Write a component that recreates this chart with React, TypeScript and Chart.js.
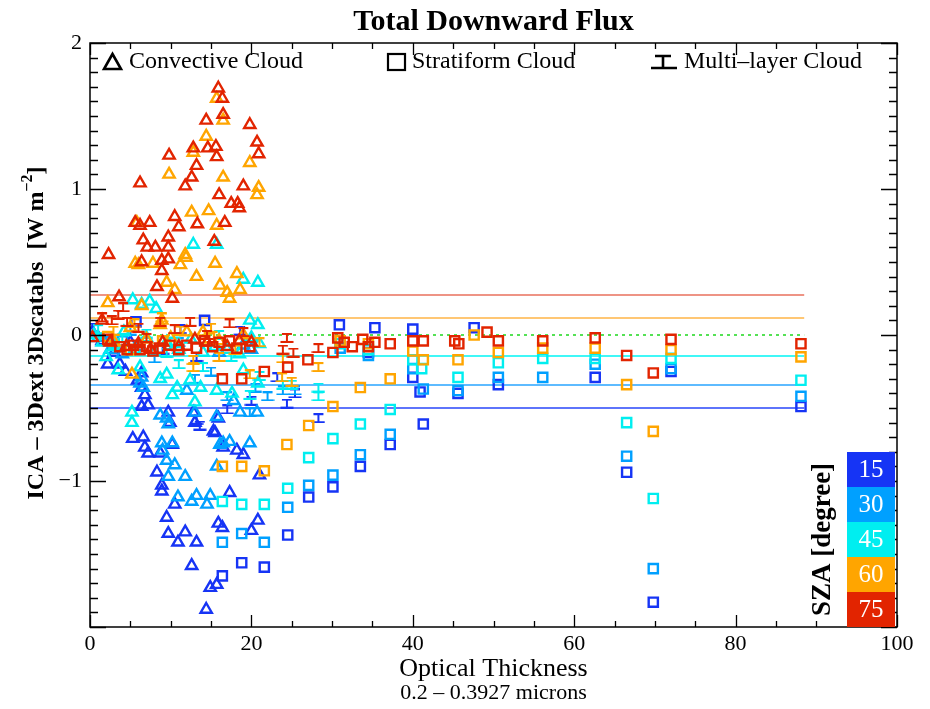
import { useEffect, useRef } from "react";
import { Chart, registerables } from "chart.js";

Chart.register(...registerables);

type Pt = [number, number];

// Solar zenith angle classes, bottom colour bar entries
const SZA_VALUES = ["15", "30", "45", "60", "75"];
const SZA_COLORS = ["rgb(22,52,245)", "rgb(0,160,255)", "rgb(0,238,240)", "rgb(255,165,0)", "rgb(226,36,0)"];
const MEAN_LINE_COLORS = ["rgb(40,70,250)", "rgb(40,165,255)", "rgb(0,245,245)", "rgb(255,180,70)", "rgb(232,112,92)"];

// Mean difference of each SZA class, drawn as horizontal reference lines
const MEAN_DIFF = [-0.5, -0.342, -0.144, 0.116, 0.274];
const MEAN_LINE_X: [number, number] = [0, 88.5];

const X_TICKS = [0, 20, 40, 60, 80, 100];
const Y_TICKS = [-1, 0, 1, 2];

// Convective cloud cases (optical thickness, ICA - 3D difference)
const convective15: Pt[] = [
  [0.3, 0.02], [1.5, -0.04], [2.2, -0.2], [3.0, -0.12], [3.7, -0.2], [4.4, -0.25], [5.0, -0.05], [5.9, -0.31],
  [6.4, -0.26], [6.4, -0.36], [6.8, -0.41], [6.4, -0.49], [7.2, -0.48], [9.7, -0.53], [9.9, -0.6], [12.8, -0.53],
  [13.0, -0.6], [15.5, -0.67], [15.9, -0.57], [15.3, -0.66], [5.3, -0.71], [6.6, -0.7], [10.2, -0.75], [6.8, -0.77],
  [7.2, -0.81], [8.7, -0.81], [8.3, -0.94], [8.9, -1.03], [8.9, -1.07], [10.5, -1.16], [9.5, -1.25], [9.7, -1.36],
  [10.9, -1.42], [11.8, -1.35], [13.2, -1.42], [12.6, -1.58], [14.9, -1.73], [15.7, -1.71], [14.4, -1.88],
  [15.9, -1.29], [16.4, -1.32], [20.0, -1.34], [20.8, -1.27], [17.3, -1.08], [21.0, -0.96], [18.2, -0.79],
  [19.0, -0.82], [16.5, -0.77],
];
const convective30: Pt[] = [
  [1.0, -0.02], [2.5, -0.1], [4.0, -0.13], [6.0, -0.08], [6.4, -0.29], [6.2, -0.33], [6.6, -0.36], [8.7, -0.55],
  [9.5, -0.57], [9.7, -0.61], [13.0, -0.53], [15.7, -0.56], [18.6, -0.53], [20.7, -0.53], [16.5, -0.74],
  [17.3, -0.73], [19.8, -0.74], [8.9, -0.74], [10.2, -0.74], [9.0, -0.79], [9.5, -0.86], [10.5, -0.89],
  [9.7, -0.97], [11.8, -0.97], [10.9, -1.11], [12.6, -1.14], [13.2, -1.1], [14.5, -1.16], [14.9, -1.1],
  [16.1, -0.75], [15.7, -0.9], [16.0, -0.12], [19.0, -0.07], [20.0, -0.1], [12.0, -0.38], [17.8, -0.45],
];
const convective45: Pt[] = [
  [0.5, 0.0], [1.5, -0.05], [2.0, -0.15], [3.0, -0.08], [4.2, 0.02], [5.5, -0.1], [7.0, -0.02], [8.0, -0.12],
  [9.5, -0.05], [11.0, -0.1], [12.5, -0.03], [14.0, -0.12], [15.5, -0.08], [17.0, -0.1], [18.5, -0.13],
  [20.0, -0.02], [21.0, -0.06], [12.8, 0.62], [15.7, 0.62], [19.0, 0.38], [20.8, 0.36], [7.4, 0.23], [5.3, 0.24],
  [6.4, 0.21], [8.2, 0.18], [19.8, 0.1], [20.8, 0.07], [3.5, -0.24], [6.2, -0.22], [9.5, -0.27], [10.8, -0.36],
  [10.2, -0.41], [12.4, -0.31], [13.7, -0.36], [15.7, -0.38], [17.6, -0.4], [19.0, -0.24], [20.8, -0.33],
  [5.2, -0.53], [5.2, -0.6], [13.0, -0.46], [8.7, -0.3],
];
const convective60: Pt[] = [
  [15.7, 1.62], [16.5, 1.47], [14.4, 1.36], [12.8, 1.25], [9.8, 1.1], [16.5, 1.08], [20.9, 1.01], [20.7, 0.96],
  [19.8, 1.18], [12.6, 0.84], [14.7, 0.85], [15.7, 0.75], [11.8, 0.55], [5.8, 0.77], [5.6, 0.49], [6.0, 0.48],
  [7.8, 0.49], [11.9, 0.53], [11.2, 0.48], [15.5, 0.49], [13.2, 0.4], [18.2, 0.42], [18.6, 0.31], [17.3, 0.25],
  [16.1, 0.34], [17.0, 0.29], [9.5, 0.36], [10.5, 0.31], [6.4, 0.2], [2.2, 0.22], [8.9, 0.1], [8.7, 0.07],
  [5.2, -0.27], [3.0, -0.05], [5.0, 0.05], [7.0, -0.03], [10.0, -0.02], [12.0, 0.02], [14.0, 0.02], [16.0, -0.04],
  [19.0, 0.0],
];
const convective75: Pt[] = [
  [15.9, 1.69], [16.4, 1.62], [16.5, 1.51], [14.4, 1.47], [19.8, 1.44], [20.7, 1.32], [20.9, 1.24], [15.6, 1.29],
  [14.6, 1.28], [15.7, 1.22], [12.8, 1.28], [9.8, 1.23], [13.2, 1.16], [12.6, 1.08], [11.8, 1.02], [6.2, 1.04],
  [19.0, 1.02], [16.0, 0.96], [17.5, 0.9], [18.3, 0.9], [18.5, 0.87], [10.5, 0.81], [11.0, 0.74], [13.3, 0.76],
  [16.7, 0.77], [5.6, 0.77], [6.2, 0.75], [7.4, 0.77], [9.7, 0.67], [6.6, 0.65], [7.1, 0.6], [8.1, 0.6], [9.7, 0.6],
  [15.4, 0.64], [2.3, 0.55], [6.4, 0.5], [8.9, 0.51], [9.7, 0.52], [8.9, 0.44], [8.3, 0.33], [3.6, 0.26],
  [10.2, 0.25], [1.5, 0.1], [0.3, -0.02], [2.5, -0.05], [4.5, -0.08], [6.0, -0.06], [7.5, -0.1], [9.0, -0.05],
  [11.0, -0.08], [13.0, -0.03], [14.5, -0.05], [17.0, -0.08], [18.5, -0.04], [20.0, -0.05],
];

// Stratiform cloud cases
const stratiform15: Pt[] = [
  [5.7, 0.09], [14.2, 0.1], [16.4, -1.65], [18.8, -1.56], [21.6, -1.59], [24.5, -1.37], [27.1, -1.11],
  [30.1, -1.04], [33.5, -0.9], [37.2, -0.75], [40.0, -0.29], [40.9, -0.39], [41.3, -0.61], [45.6, -0.4],
  [50.6, -0.34], [62.6, -0.29], [66.5, -0.94], [69.8, -1.83], [72.0, -0.25], [88.1, -0.49], [30.9, 0.07],
  [35.3, 0.05], [40.0, 0.04], [47.6, 0.05], [34.5, -0.12],
];
const stratiform30: Pt[] = [
  [4.0, -0.04], [16.4, -1.42], [18.8, -1.36], [21.6, -1.42], [24.5, -1.18], [27.1, -1.03], [30.1, -0.96],
  [33.5, -0.82], [37.2, -0.68], [40.0, -0.23], [41.3, -0.37], [45.6, -0.38], [50.6, -0.29], [56.1, -0.29],
  [62.6, -0.2], [66.5, -0.83], [69.8, -1.6], [72.0, -0.23], [88.1, -0.42], [31.0, -0.09], [34.5, -0.14],
];
const stratiform45: Pt[] = [
  [3.0, -0.06], [10.5, -0.05], [16.4, -1.14], [18.8, -1.16], [21.6, -1.16], [24.5, -1.05], [27.1, -0.84],
  [30.1, -0.71], [33.5, -0.61], [37.2, -0.51], [40.0, -0.17], [41.1, -0.23], [45.6, -0.29], [50.6, -0.19],
  [56.1, -0.16], [62.6, -0.16], [66.5, -0.6], [69.8, -1.12], [72.0, -0.16], [88.1, -0.31], [31.0, -0.06],
  [34.5, -0.1],
];
const stratiform60: Pt[] = [
  [2.2, -0.01], [5.0, -0.1], [9.0, -0.04], [14.8, -0.02], [16.4, -0.9], [18.8, -0.9], [21.6, -0.93],
  [24.4, -0.75], [27.1, -0.62], [30.1, -0.49], [33.5, -0.36], [37.2, -0.3], [40.0, -0.11], [41.3, -0.17],
  [45.6, -0.17], [50.6, -0.12], [56.1, -0.09], [62.6, -0.09], [66.5, -0.34], [69.8, -0.66], [72.0, -0.1],
  [88.1, -0.15], [31.0, -0.04], [34.5, -0.06], [47.6, 0.0],
];
const stratiform75: Pt[] = [
  [2.2, -0.03], [3.7, -0.08], [4.6, -0.1], [5.4, -0.07], [6.2, -0.1], [7.0, -0.08], [7.8, -0.11], [8.6, -0.09],
  [9.9, -0.07], [11.0, -0.1], [12.0, -0.07], [13.2, -0.09], [14.2, -0.04], [15.2, -0.08], [16.0, -0.05],
  [17.3, -0.04], [18.2, -0.09], [19.8, -0.08], [16.4, -0.3], [18.8, -0.3], [21.6, -0.25], [24.5, -0.22],
  [27.0, -0.17], [30.1, -0.12], [30.7, -0.02], [31.5, -0.05], [32.5, -0.08], [33.8, -0.03], [34.5, -0.08],
  [35.3, -0.05], [37.2, -0.06], [40.0, -0.04], [41.3, -0.04], [45.2, -0.04], [45.7, -0.06], [49.2, 0.02],
  [50.6, -0.04], [56.1, -0.04], [62.6, -0.02], [66.5, -0.14], [69.8, -0.26], [72.0, -0.03], [88.1, -0.06],
];

// Multi-layer cloud cases
const multiLayer15: Pt[] = [
  [0.4, 0.05], [3.0, -0.06], [9.0, -0.1], [11.2, 0.04], [13.2, -0.15], [13.2, -0.58], [13.6, -0.62], [17.0, -0.51],
  [18.6, 0.03], [20.0, -0.45], [23.2, -0.29], [24.4, -0.47], [25.4, -0.4], [28.3, -0.57],
];
const multiLayer30: Pt[] = [
  [2.0, -0.04], [5.0, 0.03], [8.0, -0.16], [11.0, -0.05], [13.0, -0.3], [15.0, -0.25], [17.0, -0.42],
  [19.8, -0.53], [20.5, -0.36], [22.0, -0.42], [23.9, -0.38], [25.4, -0.38],
];
const multiLayer45: Pt[] = [
  [1.0, 0.04], [4.0, -0.02], [7.0, 0.01], [9.5, -0.12], [11.0, -0.2], [14.0, -0.22], [16.0, 0.0], [17.5, -0.15],
  [19.8, -0.41], [21.0, -0.28], [23.9, -0.34], [25.0, -0.34], [28.3, -0.36], [28.3, -0.42],
];
const multiLayer60: Pt[] = [
  [2.9, 0.03], [5.5, 0.08], [8.9, 0.12], [11.2, 0.03], [12.8, -0.17], [12.8, -0.22], [15.0, 0.05], [16.0, -0.15],
  [18.0, -0.1], [19.8, -0.27], [21.0, -0.05], [23.9, -0.16], [23.8, -0.29], [25.0, -0.32], [28.3, -0.22],
];
const multiLayer75: Pt[] = [
  [1.5, 0.12], [2.7, 0.1], [3.5, 0.14], [4.1, 0.19], [4.6, 0.09], [6.0, 0.05], [7.0, -0.02], [8.7, 0.09],
  [10.5, 0.04], [12.4, 0.09], [14.5, 0.0], [17.3, 0.08], [19.0, 0.02], [24.4, -0.02], [23.9, -0.1], [25.2, -0.12],
  [28.3, -0.09],
];

const CONVECTIVE = [convective15, convective30, convective45, convective60, convective75];
const STRATIFORM = [stratiform15, stratiform30, stratiform45, stratiform60, stratiform75];
const MULTI_LAYER = [multiLayer15, multiLayer30, multiLayer45, multiLayer60, multiLayer75];

const SERIF = '"Liberation Serif", "DejaVu Serif", serif';

// "工"-shaped marker used for multi-layer cases
function makeIBeam(color: string, w: number, h: number, lw: number, topW: number): HTMLCanvasElement {
  const c = document.createElement("canvas");
  c.width = w;
  c.height = h;
  const g = c.getContext("2d")!;
  g.strokeStyle = color;
  g.lineWidth = lw;
  const cx = w / 2;
  const t = lw / 2;
  const b = h - lw / 2;
  g.beginPath();
  g.moveTo(cx - topW / 2, t);
  g.lineTo(cx + topW / 2, t);
  g.moveTo(cx, t);
  g.lineTo(cx, b);
  g.moveTo(0.5, b);
  g.lineTo(w - 0.5, b);
  g.stroke();
  return c;
}

const framePlugin = {
  id: "frameAndAnnotations",
  afterDatasetsDraw(chart: any) {
    const { ctx, chartArea, scales } = chart;
    const { left, right, top, bottom } = chartArea;
    const xs = scales.x;
    const ys = scales.y;
    ctx.save();
    ctx.strokeStyle = "#000";
    ctx.lineWidth = 1.5;
    ctx.strokeRect(left, top, right - left, bottom - top);
    ctx.lineWidth = 1.3;
    ctx.beginPath();
    for (let i = 0; i <= 20; i++) {
      const v = i * 5;
      const px = Math.round(xs.getPixelForValue(v)) + 0.5;
      const len = i % 4 === 0 ? 12 : 6;
      ctx.moveTo(px, bottom);
      ctx.lineTo(px, bottom - len);
      ctx.moveTo(px, top);
      ctx.lineTo(px, top + len);
    }
    for (let i = -20; i <= 20; i++) {
      const v = i / 10;
      const py = Math.round(ys.getPixelForValue(v)) + 0.5;
      const len = i % 10 === 0 ? 16 : 8;
      ctx.moveTo(left, py);
      ctx.lineTo(left + len, py);
      ctx.moveTo(right, py);
      ctx.lineTo(right - len, py);
    }
    ctx.stroke();
    ctx.restore();
  },
  afterDraw(chart: any) {
    const { ctx, chartArea } = chart;
    const { left, right, bottom } = chartArea;
    const cx = (left + right) / 2;
    ctx.save();
    ctx.fillStyle = "#000";
    ctx.textBaseline = "middle";

    // Title
    ctx.textAlign = "center";
    ctx.font = `bold 30px ${SERIF}`;
    ctx.fillText("Total Downward Flux", cx, 22);

    // X axis titles
    ctx.font = `26px ${SERIF}`;
    ctx.fillText("Optical Thickness", cx, 669);
    ctx.font = `22px ${SERIF}`;
    ctx.fillText("0.2 – 0.3927 microns", cx, 693);

    // Y axis title with superscript
    ctx.save();
    ctx.translate(37, 333);
    ctx.rotate(-Math.PI / 2);
    const mainFont = `bold 24px ${SERIF}`;
    const supFont = `bold 16px ${SERIF}`;
    const partA = "ICA – 3Dext 3Dscatabs  [W m";
    const partSup = "−2";
    const partB = "]";
    ctx.font = mainFont;
    const wA = ctx.measureText(partA).width;
    const wB = ctx.measureText(partB).width;
    ctx.font = supFont;
    const wS = ctx.measureText(partSup).width;
    const x0 = -(wA + wS + wB) / 2;
    ctx.textAlign = "left";
    ctx.font = mainFont;
    ctx.fillText(partA, x0, 0);
    ctx.font = supFont;
    ctx.fillText(partSup, x0 + wA, -9);
    ctx.font = mainFont;
    ctx.fillText(partB, x0 + wA + wS, 0);
    ctx.restore();

    // Legend inside the plot
    ctx.strokeStyle = "#000";
    ctx.lineWidth = 2.6;
    const ly = 62;
    ctx.beginPath();
    ctx.moveTo(112.5, ly - 8);
    ctx.lineTo(121, ly + 7);
    ctx.lineTo(104, ly + 7);
    ctx.closePath();
    ctx.stroke();
    ctx.lineWidth = 2.2;
    ctx.strokeRect(388, ly - 8, 17, 16);
    ctx.lineWidth = 2.6;
    ctx.beginPath();
    ctx.moveTo(655, ly - 6);
    ctx.lineTo(671, ly - 6);
    ctx.moveTo(663, ly - 6);
    ctx.lineTo(663, ly + 6);
    ctx.moveTo(651, ly + 6);
    ctx.lineTo(677, ly + 6);
    ctx.stroke();
    ctx.textAlign = "left";
    ctx.font = `24px ${SERIF}`;
    ctx.fillText("Convective Cloud", 129, ly);
    ctx.fillText("Stratiform Cloud", 412, ly);
    ctx.fillText("Multi–layer Cloud", 684, ly);

    // SZA colour bar
    const barL = 847;
    const barW = 48;
    const barH = 35;
    const barTop = bottom - barH * SZA_VALUES.length;
    ctx.textAlign = "center";
    for (let i = 0; i < SZA_VALUES.length; i++) {
      const y = barTop + i * barH;
      ctx.fillStyle = SZA_COLORS[i];
      ctx.fillRect(barL, y, barW, barH);
      ctx.fillStyle = "#fff";
      ctx.font = `25px ${SERIF}`;
      ctx.fillText(SZA_VALUES[i], barL + barW / 2, y + barH / 2 + 1);
    }
    ctx.save();
    ctx.translate(823, barTop + (bottom - barTop) / 2);
    ctx.rotate(-Math.PI / 2);
    ctx.fillStyle = "#000";
    ctx.font = `bold 27px ${SERIF}`;
    ctx.fillText("SZA [degree]", 0, 0);
    ctx.restore();

    ctx.restore();
  },
};

export default function App() {
  const canvasRef = useRef<HTMLCanvasElement | null>(null);

  useEffect(() => {
    const canvas = canvasRef.current;
    if (!canvas) return;

    const toXY = (pts: Pt[]) => pts.map(([x, y]) => ({ x, y }));
    const layers: any[] = [];

    // reference lines at the bottom of the stack
    layers.push({
      label: "zero",
      data: toXY([[MEAN_LINE_X[0], 0], [MEAN_LINE_X[1], 0]]),
      showLine: true,
      borderColor: "rgb(30,215,30)",
      borderWidth: 1.5,
      borderDash: [3, 4],
      pointRadius: 0,
    });
    for (let k = 0; k < SZA_VALUES.length; k++) {
      layers.push({
        label: `mean ${SZA_VALUES[k]}`,
        data: toXY([[MEAN_LINE_X[0], MEAN_DIFF[k]], [MEAN_LINE_X[1], MEAN_DIFF[k]]]),
        showLine: true,
        borderColor: MEAN_LINE_COLORS[k],
        borderWidth: 1.6,
        pointRadius: 0,
      });
    }

    // markers: low SZA first, high SZA on top
    for (let k = 0; k < SZA_VALUES.length; k++) {
      const color = SZA_COLORS[k];
      layers.push({
        label: `Convective ${SZA_VALUES[k]}`,
        data: toXY(CONVECTIVE[k]),
        pointStyle: "triangle",
        pointRadius: 6.5,
        pointBorderWidth: 2.4,
        pointBorderColor: color,
        pointBackgroundColor: "rgba(0,0,0,0)",
        showLine: false,
      });
      layers.push({
        label: `Multi-layer ${SZA_VALUES[k]}`,
        data: toXY(MULTI_LAYER[k]),
        pointStyle: makeIBeam(color, 14, 10, 2, 10),
        pointRadius: 6,
        showLine: false,
      });
      layers.push({
        label: `Stratiform ${SZA_VALUES[k]}`,
        data: toXY(STRATIFORM[k]),
        pointStyle: "rect",
        pointRadius: 6.5,
        pointBorderWidth: 2.4,
        pointBorderColor: color,
        pointBackgroundColor: "rgba(0,0,0,0)",
        showLine: false,
      });
    }
    const n = layers.length;
    layers.forEach((d, i) => (d.order = n - i));

    const chart = new Chart(canvas, {
      type: "scatter",
      data: { datasets: layers },
      options: {
        animation: false,
        responsive: false,
        devicePixelRatio: 1,
        layout: { padding: { top: 43, right: 33, left: 0, bottom: 0 } },
        plugins: { legend: { display: false }, tooltip: { enabled: false }, title: { display: false } },
        scales: {
          x: {
            type: "linear",
            min: 0,
            max: 100,
            border: { display: false },
            grid: { display: false, drawTicks: false },
            afterBuildTicks: (s: any) => {
              s.ticks = X_TICKS.map((v) => ({ value: v }));
            },
            afterFit: (s: any) => {
              s.height = 82;
            },
            ticks: {
              color: "#000",
              font: { family: SERIF, size: 22 },
              padding: 4,
              maxRotation: 0,
              autoSkip: false,
            },
          },
          y: {
            type: "linear",
            min: -2,
            max: 2,
            border: { display: false },
            grid: { display: false, drawTicks: false },
            afterBuildTicks: (s: any) => {
              s.ticks = Y_TICKS.map((v) => ({ value: v }));
            },
            afterFit: (s: any) => {
              s.width = 90;
            },
            ticks: {
              color: "#000",
              font: { family: SERIF, size: 22 },
              padding: 8,
              autoSkip: false,
              callback: (v: any) => String(v).replace("-", "−"),
            },
          },
        },
      },
      plugins: [framePlugin],
    });

    return () => chart.destroy();
  }, []);

  return (
    <div style={{ position: "fixed", left: 0, top: 0, width: 930, height: 709, background: "#fff" }}>
      <canvas ref={canvasRef} width={930} height={709} />
    </div>
  );
}
